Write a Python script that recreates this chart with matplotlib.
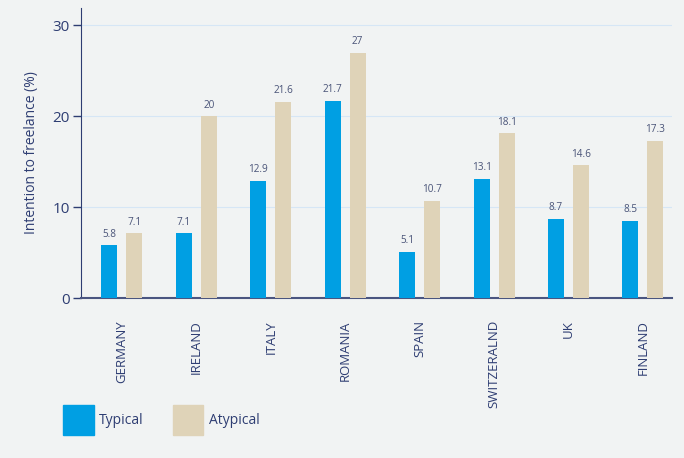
import numpy as np
import matplotlib.pyplot as plt
from matplotlib.patches import Patch

plt.rcParams['font.family'] = ['Open Sans', 'DejaVu Sans']

countries = ['GERMANY', 'IRELAND', 'ITALY', 'ROMANIA', 'SPAIN', 'SWITZERALND', 'UK', 'FINLAND']
typical = [5.8, 7.1, 12.9, 21.7, 5.1, 13.1, 8.7, 8.5]
atypical = [7.1, 20, 21.6, 27, 10.7, 18.1, 14.6, 17.3]
yticks = [0, 10, 20, 30]

bg = '#f1f3f3'
navy = '#2e3d72'
blue = '#009fe3'
beige = '#dfd3b8'

fig = plt.figure(figsize=(6.84, 4.58), dpi=100, facecolor=bg)
ax = fig.add_axes([81/684, 1 - 298/458, (672 - 81)/684, 290/458])
ax.set_facecolor(bg)

x = np.arange(len(countries))
w = 0.215
off = 0.168
b1 = ax.bar(x - off, typical, w, color=blue, zorder=3)
b2 = ax.bar(x + off, atypical, w, color=beige, zorder=3)

for bars, vals in ((b1, typical), (b2, atypical)):
    for r, v in zip(bars, vals):
        ax.text(r.get_x() + r.get_width() / 2, v + 0.6, f'{v:g}', ha='center', va='bottom',
                fontsize=7.2, color='#4a5478')

ax.set_xlim(-0.55, len(countries) - 1 + 0.39)
ax.set_ylim(0, 31.9)
ax.set_yticks(yticks)
ax.grid(axis='y', color='#d6e6f5', lw=0.8, zorder=0)
ax.set_xticks(x)
ax.set_xticklabels(countries, rotation=90, fontsize=9.5, color=navy)
ax.tick_params(axis='x', length=0, pad=16)
ax.tick_params(axis='y', length=6, width=1, color=navy, labelsize=11, labelcolor=navy, pad=2)
for s in ('top', 'right'):
    ax.spines[s].set_visible(False)
ax.spines['left'].set_color(navy)
ax.spines['bottom'].set_color('#4a5580')
ax.spines['bottom'].set_linewidth(1.5)
ax.set_ylabel('Intention to freelance (%)', fontsize=10, color=navy, labelpad=10)

handles = [Patch(color=blue, label='Typical'), Patch(color=beige, label='Atypical')]
fig.legend(handles=handles, loc='center left', bbox_to_anchor=(63/684, 1 - 420/458),
           ncol=2, frameon=False, fontsize=10, handlelength=2.2, handleheight=3.0,
           handletextpad=0.4, columnspacing=2.1, borderpad=0, borderaxespad=0,
           labelcolor=navy)

fig.savefig('out.png', dpi=100, facecolor=bg)
